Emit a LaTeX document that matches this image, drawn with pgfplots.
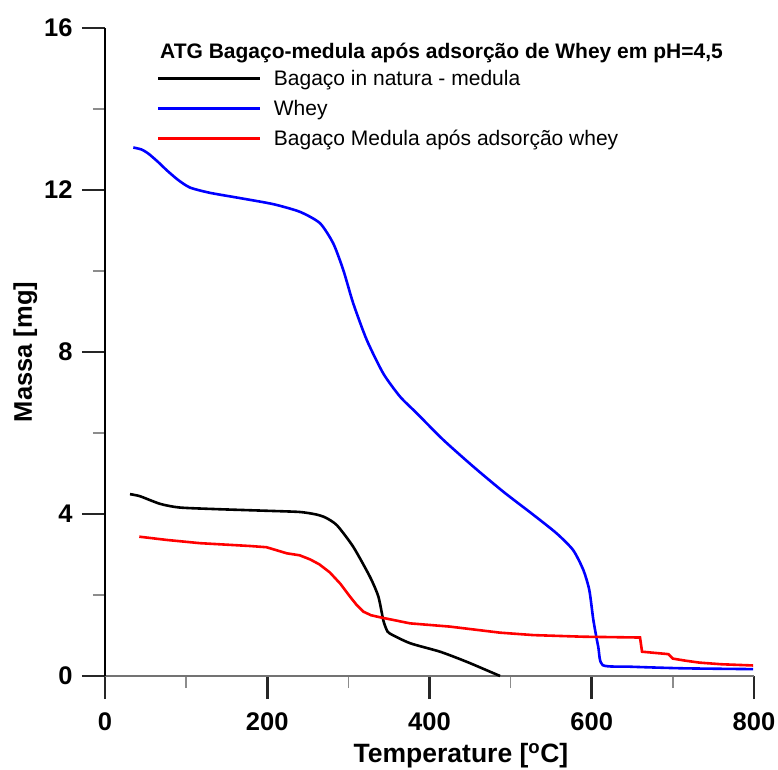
\documentclass[border=0pt]{standalone}
\usepackage{pgfplots}
\pgfplotsset{compat=1.18}
\usepackage{fontspec}
\setmainfont{Liberation Sans}
\begin{document}
\begin{tikzpicture}
\path[use as bounding box] (-105pt,-93pt) rectangle (673pt,676pt);
\begin{axis}[
  at={(0pt,0pt)}, anchor=south west,
  scale only axis, width=649pt, height=648pt,
  xmin=0, xmax=800, ymin=0, ymax=16,
  axis x line*=bottom, axis y line*=left,
  axis line style={-},
  x axis line style={black!55, line width=1.6pt},
  y axis line style={black, line width=1.4pt},
  xtick={0,200,400,600,800}, ytick={0,4,8,12,16},
  minor x tick num=1, minor y tick num=1,
  tick align=outside,
  major tick length=23pt, minor tick length=12pt,
  every major tick/.style={line width=2.6pt, black!85},
  every minor tick/.style={line width=1.3pt, black!45},
  /pgf/number format/assume math mode=true,
  tick label style={font=\fontsize{25.5}{25.5}\selectfont\bfseries},
  xticklabel style={yshift=-10pt},
  yticklabel style={xshift=-6pt},
  xlabel={Temperature [\textsuperscript{o}C]},
  ylabel={Massa [mg]},
  label style={font=\fontsize{26.5}{26.5}\selectfont\bfseries},
  xlabel style={at={(ticklabel cs:0.5485)}, yshift=-6pt},
  ylabel style={font=\fontsize{25.5}{25.5}\selectfont\bfseries},
  legend style={at={(axis description cs:0.080,0.934)}, anchor=north west,
    draw=none, fill=none, inner sep=0pt, outer sep=0pt,
    font=\fontsize{21}{21}\selectfont,
    nodes={inner sep=0pt, text height=15pt, text depth=5pt},
    row sep=10pt, column sep=12pt},
  legend cell align=left,
  legend image code/.code={\draw[#1, line width=3pt] (0pt,2pt) -- (102pt,2pt);},
  clip=false,
]
\addplot[black, line width=2.6pt, smooth, tension=0.4] coordinates {
(30.8,4.49) (43,4.44) (68,4.25) (92,4.16) (138,4.12) (199,4.08) (240,4.05)
(260,3.99) (272,3.91) (286,3.72) (306,3.19) (326.6,2.45) (337,1.96) (343,1.38)
(347,1.15) (351,1.05) (376,0.81) (413,0.60) (446,0.35) (487,0.0)};
\addlegendentry{Bagaço in natura - medula}
\addplot[blue, line width=2.6pt, smooth, tension=0.4] coordinates {
(34.9,13.05) (45,13.0) (53.4,12.9) (65,12.7) (76,12.49) (90,12.25) (104.8,12.06) (129.4,11.93) (166.4,11.80)
(207.5,11.65) (240.4,11.46) (265,11.18) (281.4,10.68) (293.8,10.02) (306,9.20)
(322.6,8.30) (343,7.47) (363.6,6.90) (384.2,6.49) (417,5.83) (454,5.17)
(491,4.55) (528,3.98) (556.8,3.52) (577,3.11) (589.6,2.62) (597,2.12)
(602,1.38) (608,0.72) (613.4,0.27) (647,0.23) (713,0.19) (799,0.17)};
\addlegendentry{Whey}
\addplot[red, line width=2.6pt] coordinates {
(42.3,3.44) (76,3.36) (117,3.28) (178.7,3.21) (199,3.18) (224,3.03)
(240,2.98) (252.7,2.88) (264,2.76) (277,2.56) (290,2.28) (302,1.96) (310,1.76)
(318.4,1.59) (328,1.50) (339,1.45) (376,1.30) (425,1.22) (487,1.07)
(528,1.01) (589.6,0.97) (659.5,0.95) (662,0.60) (694.4,0.54) (700,0.43)
(715,0.38) (733,0.33) (760,0.29) (799,0.26)};
\addlegendentry{Bagaço Medula após adsorção whey}
\end{axis}
\node[anchor=west, inner sep=0pt, font=\fontsize{21}{21}\selectfont\bfseries] at (55pt,623pt) {ATG Bagaço-medula após adsorção de Whey em pH=4,5};
\end{tikzpicture}
\end{document}
